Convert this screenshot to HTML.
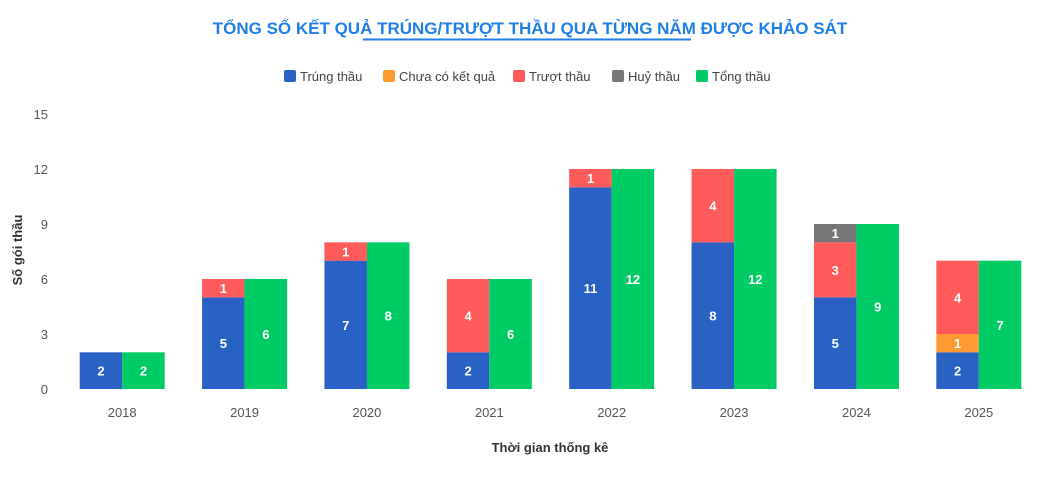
<!DOCTYPE html>
<html><head><meta charset="utf-8"><style>
body{margin:0;background:#fff;width:1060px;height:491px;overflow:hidden;font-family:"Liberation Sans",sans-serif}
</style></head><body>
<svg width="1060" height="491" xmlns="http://www.w3.org/2000/svg">
<text x="530" y="34" text-anchor="middle" font-size="17" font-weight="bold" fill="#1f7fe5">TỔNG SỐ KẾT QUẢ TRÚNG/TRƯỢT THẦU QUA TỪNG NĂM ĐƯỢC KHẢO SÁT</text>
<line x1="363" y1="39.5" x2="691" y2="39.5" stroke="#1f7fe5" stroke-width="2"/>
<g id="legend" font-size="13" fill="#444"></g>
<g id="yaxis" font-size="13" fill="#555"></g>
<text transform="translate(22,250) rotate(-90)" text-anchor="middle" font-size="13" font-weight="bold" fill="#333">Số gói thầu</text>
<g id="bars"></g>
<g id="xaxis" font-size="13" fill="#555"></g>
<text x="550" y="452" text-anchor="middle" font-size="13" font-weight="bold" fill="#333">Thời gian thống kê</text>
</svg>
<script>
const categories=["2018","2019","2020","2021","2022","2023","2024","2025"];
const trung=[2,5,7,2,11,8,5,2];
const chua=[0,0,0,0,0,0,0,1];
const truot=[0,1,1,4,1,4,3,4];
const huy=[0,0,0,0,0,0,1,0];
const tong=[2,6,8,6,12,12,9,7];
const yTicks=[0,3,6,9,12,15];
const seriesNames=["Trúng thầu","Chưa có kết quả","Trượt thầu","Huỷ thầu","Tổng thầu"];
const colors=["#2962c4","#ff9a33","#ff5b5b","#777777","#00cc66"];
const NS="http://www.w3.org/2000/svg";
const y0=389,yMax=15,yTop=114,left=61,right=1040;
const y=v=>y0-(v/yMax)*(y0-yTop);
const gw=(right-left)/categories.length;
function mk(tag,attrs,parent,text){const e=document.createElementNS(NS,tag);for(const k in attrs)e.setAttribute(k,attrs[k]);if(text!==undefined)e.textContent=text;parent.appendChild(e);return e;}
const Y=document.getElementById('yaxis');
yTicks.forEach(t=>{const e=mk('text',{x:48,y:y(t)+5,'text-anchor':'end'},Y,t);

});
const L=document.getElementById('legend');
const lx=[284,383,513,612,696];
seriesNames.forEach((n,i)=>{const g=mk('g',{},L);


mk('rect',{x:lx[i],y:70,width:12,height:12,rx:2,fill:colors[i]},g);
mk('text',{x:lx[i]+16,y:81},g,n);});
const B=document.getElementById('bars'),X=document.getElementById('xaxis');
const bw=42.5;
categories.forEach((c,i)=>{const cx=left+gw*i+gw/2;
const xl=mk('text',{x:cx,y:417,'text-anchor':'middle'},X,c);


let acc=0;
[[trung,0],[chua,1],[truot,2],[huy,3]].forEach(([arr,k])=>{const v=arr[i];if(!v)return;
const r=mk('rect',{x:cx-bw,y:y(acc+v),width:bw,height:y(acc)-y(acc+v),fill:colors[k]},B);


mk('text',{x:cx-bw/2,y:(y(acc)+y(acc+v))/2+5,'text-anchor':'middle','font-size':13,'font-weight':'bold',fill:'#fff'},B,v);
acc+=v;});
const v=tong[i];
const r=mk('rect',{x:cx,y:y(v),width:bw,height:y0-y(v),fill:colors[4]},B);


mk('text',{x:cx+bw/2,y:(y0+y(v))/2+5,'text-anchor':'middle','font-size':13,'font-weight':'bold',fill:'#fff'},B,v);
});
</script>
</body></html>
